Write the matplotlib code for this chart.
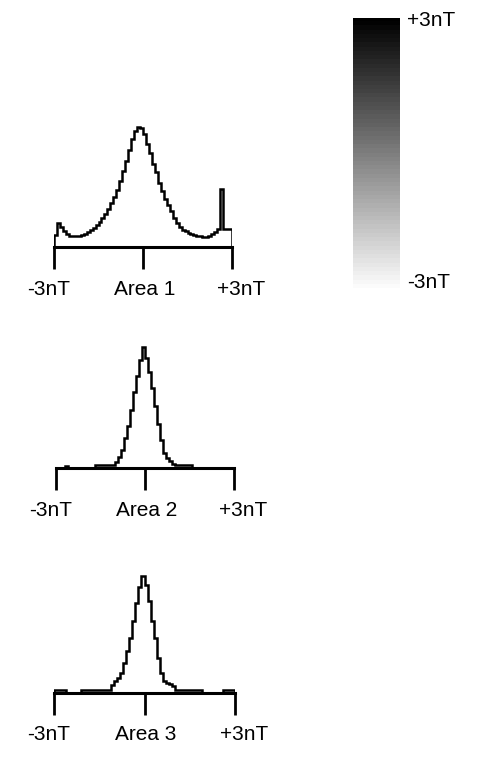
import numpy as np
import matplotlib
matplotlib.use("Agg")
from matplotlib import pyplot as plt

plt.rcParams['font.family'] = ['Liberation Sans', 'DejaVu Sans']

# histogram heights, 60 bins from -3nT to +3nT
area1 = [12, 24, 20, 16, 13, 11, 11, 11, 11, 12,
         13, 15, 17, 19, 22, 25, 29, 33, 38, 44,
         50, 57, 66, 76, 86, 97, 108, 116, 120, 119,
         113, 103, 94, 83, 75, 64, 56, 48, 42, 36,
         29, 24, 20, 17, 16, 14, 13, 12, 11, 11,
         10, 10, 11, 13, 15, 18, 58, 18, 18, 18]
area2 = [0, 0, 0, 2, 0, 0, 0, 0, 0, 0,
         0, 0, 0, 3, 3, 3, 3, 3, 3, 3,
         6, 11, 18, 30, 42, 58, 76, 92, 108, 121,
         110, 96, 80, 62, 44, 28, 15, 10, 7, 4,
         3, 3, 3, 3, 3, 3, 0, 0, 0, 0,
         0, 0, 0, 0, 0, 0, 0, 0, 0, 0]
area3 = [3, 3, 3, 3, 0, 0, 0, 0, 0, 3,
         3, 3, 3, 3, 3, 3, 3, 3, 3, 8,
         12, 15, 20, 30, 42, 55, 72, 90, 106, 117,
         108, 92, 72, 55, 35, 20, 12, 10, 9, 7,
         3, 3, 3, 3, 3, 3, 3, 3, 3, 0,
         0, 0, 0, 0, 0, 0, 3, 3, 3, 3]
areas = ["Area 1", "Area 2", "Area 3"]
end_labels = ["-3nT", "+3nT"]
edges = np.linspace(-3, 3, 61)

W, H = 493, 765
fig = plt.figure(figsize=(W / 100, H / 100), dpi=100)


def px_axes(left, right, base, height):
    return fig.add_axes([left / W, (H - base) / H, (right - left) / W, height / H])


panels = [(54, 232, 247), (56, 234, 468), (54, 235, 693)]
for (left, right, base), vals, name in zip(panels, [area1, area2, area3], areas):
    ax = px_axes(left, right, base, 130)
    ax.stairs(vals, edges, color='black', lw=1.8, baseline=0)
    ax.set_xlim(-3, 3)
    ax.set_ylim(0, 130)
    for s in ['top', 'left', 'right']:
        ax.spines[s].set_visible(False)
    ax.spines['bottom'].set_linewidth(2.2)
    ax.set_yticks([])
    ax.set_xticks([-3, 0, 3])
    ax.set_xticklabels([])
    ax.tick_params(axis='x', direction='out', length=16, width=2)
    for x, t in zip([-3.17, 0.05, 3.3], [end_labels[0], name, end_labels[1]]):
        ax.text(x, -42, t, ha='center', va='center', fontsize=15, clip_on=False)

# grey scale bar
cax = px_axes(353, 400, 288, 270)
grad = np.linspace(-3, 3, 64).reshape(-1, 1)
cax.imshow(grad, cmap='gray_r', aspect='auto', origin='lower', vmin=-3.1, vmax=3)
cax.axis('off')
fig.text(407 / W, 1 - 21 / H, "+3nT", ha='left', va='center', fontsize=15)
fig.text(407 / W, 1 - 283 / H, "-3nT", ha='left', va='center', fontsize=15)

fig.savefig('out.png', dpi=100)
